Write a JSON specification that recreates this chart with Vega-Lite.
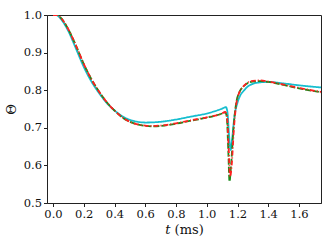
{
  "$schema": "https://vega.github.io/schema/vega-lite/v6.json",
  "autosize": "none",
  "width": 274,
  "height": 188,
  "padding": {"left": 47, "top": 15, "right": 11, "bottom": 46},
  "background": "white",
  "config": {
    "view": {"stroke": "#222", "strokeWidth": 1},
    "font": "DejaVu Serif",
    "axis": {"labelFont": "DejaVu Serif", "titleFont": "DejaVu Serif", "labelFontSize": 11.5, "titleFontSize": 13, "titleFontWeight": "normal", "domainColor": "#222", "tickColor": "#222", "labelColor": "#111", "titleColor": "#111", "grid": false, "tickSize": 3.5}
  },
  "data": {"values": [
    {"t":0,"v":1.0,"s":"c"},{"t":0.02,"v":1.0,"s":"c"},{"t":0.05,"v":0.99,"s":"c"},{"t":0.1,"v":0.957,"s":"c"},{"t":0.15,"v":0.91,"s":"c"},{"t":0.2,"v":0.862,"s":"c"},{"t":0.25,"v":0.823,"s":"c"},{"t":0.3,"v":0.792,"s":"c"},{"t":0.35,"v":0.766,"s":"c"},{"t":0.4,"v":0.746,"s":"c"},{"t":0.45,"v":0.731,"s":"c"},{"t":0.5,"v":0.721,"s":"c"},{"t":0.55,"v":0.716,"s":"c"},{"t":0.6,"v":0.714,"s":"c"},{"t":0.7,"v":0.716,"s":"c"},{"t":0.8,"v":0.722,"s":"c"},{"t":0.9,"v":0.73,"s":"c"},{"t":1.0,"v":0.738,"s":"c"},{"t":1.1,"v":0.751,"s":"c"},{"t":1.125,"v":0.755,"s":"c"},{"t":1.135,"v":0.74,"s":"c"},{"t":1.145,"v":0.68,"s":"c"},{"t":1.155,"v":0.641,"s":"c"},{"t":1.165,"v":0.67,"s":"c"},{"t":1.18,"v":0.73,"s":"c"},{"t":1.2,"v":0.767,"s":"c"},{"t":1.25,"v":0.803,"s":"c"},{"t":1.3,"v":0.817,"s":"c"},{"t":1.35,"v":0.821,"s":"c"},{"t":1.4,"v":0.822,"s":"c"},{"t":1.5,"v":0.818,"s":"c"},{"t":1.6,"v":0.813,"s":"c"},{"t":1.75,"v":0.807,"s":"c"},
    {"t":0,"v":1.0,"s":"g"},{"t":0.03,"v":1.0,"s":"g"},{"t":0.05,"v":0.993,"s":"g"},{"t":0.1,"v":0.962,"s":"g"},{"t":0.15,"v":0.918,"s":"g"},{"t":0.2,"v":0.87,"s":"g"},{"t":0.25,"v":0.829,"s":"g"},{"t":0.3,"v":0.796,"s":"g"},{"t":0.35,"v":0.768,"s":"g"},{"t":0.4,"v":0.746,"s":"g"},{"t":0.45,"v":0.728,"s":"g"},{"t":0.5,"v":0.716,"s":"g"},{"t":0.55,"v":0.709,"s":"g"},{"t":0.6,"v":0.705,"s":"g"},{"t":0.65,"v":0.704,"s":"g"},{"t":0.7,"v":0.705,"s":"g"},{"t":0.8,"v":0.711,"s":"g"},{"t":0.9,"v":0.719,"s":"g"},{"t":1.0,"v":0.727,"s":"g"},{"t":1.1,"v":0.738,"s":"g"},{"t":1.12,"v":0.741,"s":"g"},{"t":1.13,"v":0.73,"s":"g"},{"t":1.14,"v":0.64,"s":"g"},{"t":1.148,"v":0.557,"s":"g"},{"t":1.158,"v":0.6,"s":"g"},{"t":1.175,"v":0.705,"s":"g"},{"t":1.2,"v":0.782,"s":"g"},{"t":1.25,"v":0.814,"s":"g"},{"t":1.3,"v":0.823,"s":"g"},{"t":1.35,"v":0.824,"s":"g"},{"t":1.4,"v":0.822,"s":"g"},{"t":1.5,"v":0.814,"s":"g"},{"t":1.6,"v":0.805,"s":"g"},{"t":1.75,"v":0.794,"s":"g"},
    {"t":0,"v":1.0,"s":"r"},{"t":0.03,"v":1.0,"s":"r"},{"t":0.05,"v":0.993,"s":"r"},{"t":0.1,"v":0.962,"s":"r"},{"t":0.15,"v":0.918,"s":"r"},{"t":0.2,"v":0.87,"s":"r"},{"t":0.25,"v":0.829,"s":"r"},{"t":0.3,"v":0.796,"s":"r"},{"t":0.35,"v":0.768,"s":"r"},{"t":0.4,"v":0.746,"s":"r"},{"t":0.45,"v":0.728,"s":"r"},{"t":0.5,"v":0.716,"s":"r"},{"t":0.55,"v":0.709,"s":"r"},{"t":0.6,"v":0.706,"s":"r"},{"t":0.65,"v":0.705,"s":"r"},{"t":0.7,"v":0.706,"s":"r"},{"t":0.8,"v":0.712,"s":"r"},{"t":0.9,"v":0.72,"s":"r"},{"t":1.0,"v":0.728,"s":"r"},{"t":1.1,"v":0.738,"s":"r"},{"t":1.12,"v":0.742,"s":"r"},{"t":1.132,"v":0.73,"s":"r"},{"t":1.142,"v":0.65,"s":"r"},{"t":1.152,"v":0.57,"s":"r"},{"t":1.162,"v":0.6,"s":"r"},{"t":1.177,"v":0.7,"s":"r"},{"t":1.2,"v":0.78,"s":"r"},{"t":1.25,"v":0.815,"s":"r"},{"t":1.3,"v":0.825,"s":"r"},{"t":1.35,"v":0.826,"s":"r"},{"t":1.4,"v":0.823,"s":"r"},{"t":1.5,"v":0.815,"s":"r"},{"t":1.6,"v":0.806,"s":"r"},{"t":1.75,"v":0.795,"s":"r"}
  ]},
  "mark": {"type": "line", "interpolate": "monotone", "clip": true, "strokeWidth": 1.8},
  "encoding": {
    "x": {"field": "t", "type": "quantitative", "scale": {"domain": [-0.039, 1.743], "nice": false, "zero": false}, "axis": {"values": [0,0.2,0.4,0.6,0.8,1.0,1.2,1.4,1.6], "format": ".1f", "title": "𝑡 (ms)", "titlePadding": 3}},
    "y": {"field": "v", "type": "quantitative", "scale": {"domain": [0.5, 1.0], "nice": false, "zero": false}, "axis": {"values": [0.5,0.6,0.7,0.8,0.9,1.0], "format": ".1f", "title": "Θ", "titlePadding": 5}},
    "color": {"field": "s", "type": "nominal", "scale": {"domain": ["c","g","r"], "range": ["#17becf", "#1a8a1a", "#ff2020"]}, "legend": null},
    "strokeDash": {"field": "s", "type": "nominal", "scale": {"domain": ["c","g","r"], "range": [[1,0],[6,2],[5,2,1,2]]}, "legend": null},
    "order": {"field": "s"}
  }
}
